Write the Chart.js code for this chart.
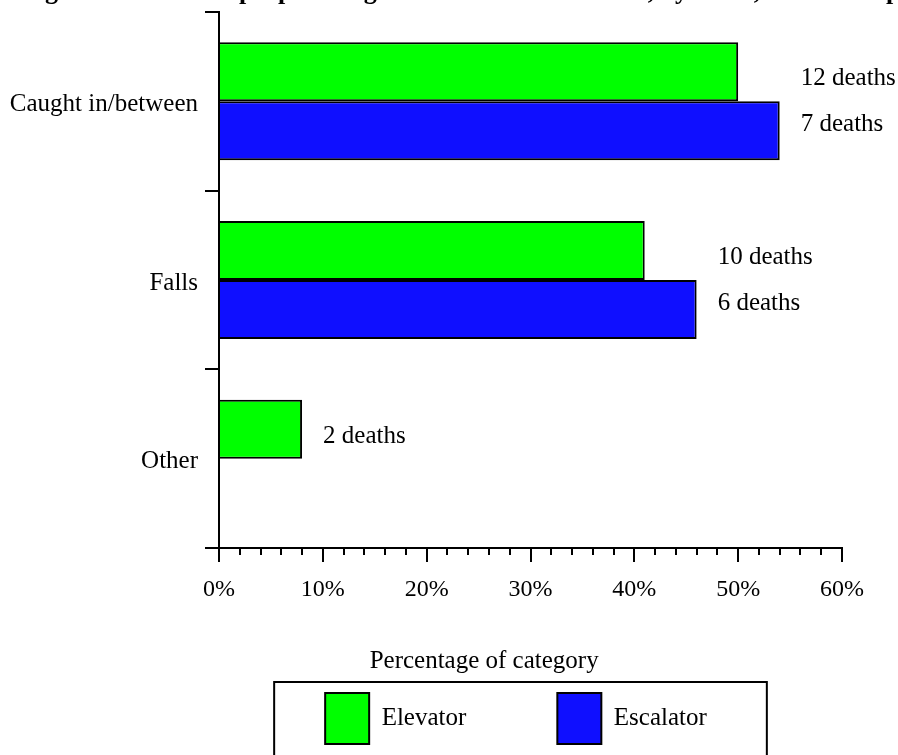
<!DOCTYPE html>
<html>
<head>
<meta charset="utf-8">
<script src="https://cdn.jsdelivr.net/npm/chart.js@4.4.1/dist/chart.umd.min.js"></script>
<style>
  html, body { margin: 0; padding: 0; background: #ffffff; }
  #wrap { position: relative; width: 898px; height: 755px; overflow: hidden; }
</style>
</head>
<body>
<div id="wrap"><canvas id="chart" width="898" height="755"></canvas></div>
<script>
// Figure heading, categories and series
const titleText = 'Figure 3. Deaths of people using elevators and escalators, by event, 1992-2003 period';
const categories = ['Caught in/between', 'Falls', 'Other'];
const seriesNames = ['Elevator', 'Escalator'];

// Share of each series' deaths falling in each event category (%)
const elevatorPct = [50, 41, 8];
const escalatorPct = [54, 46, 0];

// Death counts printed beside the bars
const elevatorDeaths = [12, 10, 2];
const escalatorDeaths = [7, 6, 0];

// Value axis: labelled every 10 %, minor marks every 2 %
const xMin = 0;
const xMax = 60;
const majorStep = 10;
const minorStep = 2;
const axisTitle = 'Percentage of category';

const SERIF = "'Liberation Serif', 'Times New Roman', serif";

// Horizontal offset of the legend row relative to its layout box
const legendShift = 95;

// Heading, clipped by the top edge of the page
const headingPlugin = {
  id: 'heading',
  afterDraw(chart) {
    const ctx = chart.ctx;
    ctx.save();
    ctx.font = 'bold 26px ' + SERIF;
    ctx.fillStyle = '#000';
    ctx.textAlign = 'left';
    ctx.textBaseline = 'alphabetic';
    ctx.fillText(titleText, 22, -1.5);
    ctx.restore();
  }
};

// Slide the legend row to sit under the plot, not the page centre
const legendPlacement = {
  id: 'legendPlacement',
  afterLayout(chart) {
    const lg = chart.legend;
    if (!lg) return;
    lg.left += legendShift;
    lg.right += legendShift;
  }
};

// "N deaths" labels to the right of each category's bars
const deathLabels = {
  id: 'deathLabels',
  afterDatasetsDraw(chart) {
    const ctx = chart.ctx;
    const xs = chart.scales.x;
    ctx.save();
    ctx.font = '25px ' + SERIF;
    ctx.fillStyle = '#000';
    ctx.textAlign = 'left';
    ctx.textBaseline = 'middle';
    chart.data.datasets.forEach((ds, di) => {
      const meta = chart.getDatasetMeta(di);
      ds.deaths.forEach((n, j) => {
        if (!n) return;
        const longest = Math.max(...chart.data.datasets.map(d => d.data[j]));
        const bar = meta.data[j];
        const px = xs.getPixelForValue(longest) + 21;
        const py = bar.y + (di === 0 ? 7 : -6);
        ctx.fillText(n + ' deaths', px, py);
      });
    });
    ctx.restore();
  }
};

// Axis caption and the frame around the legend
const legendFrame = {
  id: 'legendFrame',
  afterDraw(chart) {
    const ctx = chart.ctx;
    const boxes = chart.legend.legendHitBoxes;
    if (!boxes || !boxes.length) return;
    const first = boxes[0];
    const last = boxes[boxes.length - 1];
    const left = first.left - 51;
    const right = last.left + last.width + 60;
    const top = first.top - 11;
    ctx.save();
    ctx.strokeStyle = '#000';
    ctx.lineWidth = 2;
    ctx.strokeRect(left, top, right - left, chart.height + 10 - top);

    ctx.font = '25px ' + SERIF;
    ctx.fillStyle = '#000';
    ctx.textAlign = 'center';
    ctx.textBaseline = 'middle';
    ctx.fillText(axisTitle, left + 210, top - 21);
    ctx.restore();
  }
};

function noScalePadding(s) {
  s.paddingTop = 0;
  s.paddingBottom = 0;
  s.paddingLeft = 0;
  s.paddingRight = 0;
}

new Chart(document.getElementById('chart'), {
  type: 'bar',
  data: {
    labels: categories,
    datasets: [
      {
        label: seriesNames[0],
        data: elevatorPct,
        deaths: elevatorDeaths,
        backgroundColor: '#00ff00',
        borderColor: '#000000',
        borderWidth: 2
      },
      {
        label: seriesNames[1],
        data: escalatorPct,
        deaths: escalatorDeaths,
        backgroundColor: '#0f0fff',
        borderColor: '#000000',
        borderWidth: 2
      }
    ]
  },
  options: {
    indexAxis: 'y',
    responsive: false,
    animation: false,
    devicePixelRatio: 1,
    datasets: { bar: { categoryPercentage: 0.66, barPercentage: 1.0 } },
    layout: { padding: { top: 12, left: 0, right: 56, bottom: 1 } },
    plugins: {
      title: { display: false },
      tooltip: { enabled: false },
      legend: {
        position: 'bottom',
        labels: {
          boxWidth: 44,
          boxHeight: 51,
          padding: 91,
          color: '#000',
          font: { family: SERIF, size: 25 }
        }
      }
    },
    scales: {
      y: {
        type: 'category',
        position: 'left',
        afterFit(s) { s.width = 219; noScalePadding(s); },
        border: { display: true, color: '#000', width: 2 },
        grid: {
          offset: true,
          drawOnChartArea: false,
          drawTicks: true,
          tickLength: 14,
          color: '#000',
          lineWidth: 2
        },
        ticks: { color: '#000', padding: 7, labelOffset: 3, font: { family: SERIF, size: 25 } }
      },
      x: {
        type: 'linear',
        position: 'bottom',
        weight: 1,
        min: xMin,
        max: xMax,
        afterFit(s) { s.height = 54; noScalePadding(s); },
        border: { display: true, color: '#000', width: 2 },
        grid: { drawOnChartArea: false, tickLength: 14, color: '#000', lineWidth: 2 },
        ticks: {
          stepSize: majorStep,
          color: '#000',
          padding: 13,
          maxRotation: 0,
          font: { family: SERIF, size: 24 },
          callback: v => v + '%'
        }
      },
      xMinor: {
        type: 'linear',
        axis: 'x',
        position: 'bottom',
        weight: 0,
        min: xMin,
        max: xMax,
        afterFit(s) { s.height = 0; noScalePadding(s); },
        border: { display: false },
        grid: { drawOnChartArea: false, tickLength: 7, color: '#000', lineWidth: 2 },
        ticks: { stepSize: minorStep, display: false }
      }
    }
  },
  plugins: [headingPlugin, legendPlacement, deathLabels, legendFrame]
});
</script>
</body>
</html>
